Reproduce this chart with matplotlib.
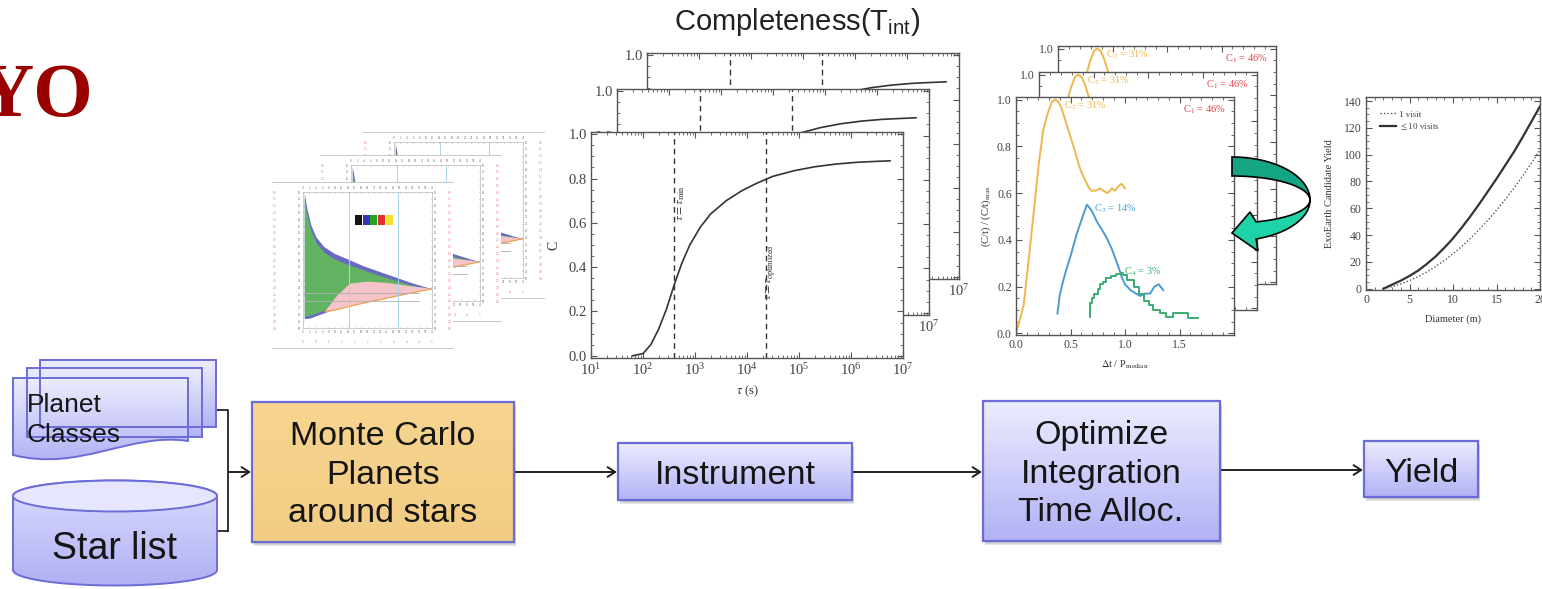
import numpy as np
import matplotlib
matplotlib.use("Agg")
import matplotlib.pyplot as plt
from matplotlib.patches import Polygon, Rectangle, Ellipse, PathPatch
from matplotlib.path import Path
from matplotlib.colors import LinearSegmentedColormap
from matplotlib.ticker import MultipleLocator, LogLocator, NullFormatter, FormatStrFormatter

# ---- completeness vs integration time ----
tau_log = [1.8, 2.0, 2.15, 2.3, 2.45, 2.6, 2.75, 2.9, 3.1, 3.3, 3.6, 3.9, 4.2,
           4.5, 4.9, 5.3, 5.7, 6.1, 6.45, 6.75]
completeness = [0.0, 0.01, 0.05, 0.12, 0.21, 0.32, 0.42, 0.50, 0.58, 0.64, 0.70,
                0.745, 0.78, 0.81, 0.835, 0.853, 0.865, 0.873, 0.877, 0.88]
tau_min_log = 2.6
tau_opt_log = 4.37

# ---- relative completeness per revisit ----
yellow_x = [0.00, 0.03, 0.07, 0.12, 0.17, 0.21, 0.25, 0.29, 0.33, 0.36, 0.39, 0.42, 0.46,
            0.50, 0.54, 0.57, 0.60, 0.63, 0.66, 0.69, 0.73, 0.77, 0.80, 0.84, 0.88, 0.91,
            0.94, 0.97, 1.00]
yellow_y = [0.00, 0.05, 0.12, 0.33, 0.55, 0.73, 0.87, 0.94, 0.99, 1.00, 0.99, 0.96, 0.90,
            0.84, 0.78, 0.73, 0.69, 0.66, 0.63, 0.61, 0.61, 0.62, 0.61, 0.60, 0.62, 0.61,
            0.63, 0.64, 0.62]
blue_x = [0.38, 0.39, 0.40, 0.43, 0.46, 0.50, 0.53, 0.56, 0.59, 0.62, 0.65, 0.67, 0.70,
          0.74, 0.78, 0.83, 0.88, 0.92, 0.95, 0.97, 1.00, 1.05, 1.10, 1.14, 1.18, 1.23,
          1.27, 1.31, 1.35]
blue_y = [0.085, 0.12, 0.16, 0.22, 0.27, 0.33, 0.38, 0.43, 0.47, 0.51, 0.55, 0.54, 0.52,
          0.48, 0.45, 0.41, 0.36, 0.31, 0.27, 0.24, 0.21, 0.185, 0.17, 0.16, 0.17, 0.17,
          0.20, 0.21, 0.185]
green_x = [0.68, 0.68, 0.70, 0.72, 0.75, 0.77, 0.80, 0.83, 0.87, 0.92, 0.96, 0.98, 1.02,
           1.08, 1.13, 1.17, 1.22, 1.26, 1.32, 1.38, 1.44, 1.50, 1.57, 1.58, 1.62, 1.67]
green_y = [0.07, 0.13, 0.15, 0.17, 0.19, 0.21, 0.22, 0.235, 0.245, 0.256, 0.26, 0.25, 0.23,
           0.20, 0.17, 0.14, 0.12, 0.10, 0.085, 0.07, 0.085, 0.085, 0.085, 0.065, 0.065, 0.065]
visit_labels = [r"C$_1$ = 46%", r"C$_2$ = 31%", r"C$_3$ = 14%", r"C$_4$ = 3%"]

# ---- yield vs telescope diameter ----
diameter = [2, 3, 4, 5, 6, 7, 8, 9, 10, 11, 12, 13, 14, 15, 16, 17, 18, 19, 20]
yield_multi = [0, 3, 6, 9.5, 13.5, 18.5, 24, 30.5, 37.5, 45.5, 54, 63, 72.5, 82, 92,
               102, 113, 124.5, 136]
yield_single = [0, 1.5, 3.5, 6, 9, 12.5, 16.5, 21, 26, 31.5, 37.5, 44, 51, 58.5, 66.5,
                75, 84, 93.5, 103.5]

# ---- completeness map thumbnail ----
map_x = [0.01, 0.03, 0.06, 0.10, 0.16, 0.24, 0.34, 0.46, 0.58, 0.70, 0.82, 0.92, 1.0]
map_top = [0.99, 0.88, 0.76, 0.67, 0.60, 0.55, 0.51, 0.46, 0.42, 0.38, 0.34, 0.31, 0.29]
map_bot = [0.07, 0.07, 0.075, 0.09, 0.11, 0.14, 0.17, 0.20, 0.225, 0.245, 0.265, 0.28, 0.29]
green_top = [0.95, 0.84, 0.72, 0.63, 0.56, 0.51, 0.47, 0.43, 0.39, 0.355, 0.32, 0.30, 0.29]
green_bot = [0.09, 0.09, 0.095, 0.11, 0.13, 0.155, 0.185, 0.21, 0.235, 0.255, 0.27, 0.283, 0.29]
pink_x = [0.17, 0.26, 0.36, 0.50, 0.65, 0.80, 0.93, 1.0]
pink_top = [0.13, 0.24, 0.33, 0.345, 0.335, 0.315, 0.30, 0.29]
pink_bot = [0.12, 0.135, 0.16, 0.19, 0.22, 0.25, 0.275, 0.29]
swatch_colors = ["#151515", "#3535b5", "#25a525", "#e03030", "#f0e030"]

# ---- flowchart ----
step_labels = ["Monte Carlo\nPlanets\naround stars", "Instrument",
               "Optimize\nIntegration\nTime Alloc.", "Yield"]

W, H = 1542, 589
plt.rcParams["font.family"] = "Liberation Serif"
plt.rcParams["mathtext.fontset"] = "stix"
plt.rcParams["mathtext.rm"] = "Liberation Sans"
plt.rcParams["mathtext.it"] = "Liberation Sans:italic"
plt.rcParams["mathtext.bf"] = "Liberation Sans:bold"
plt.rcParams["mathtext.sf"] = "Liberation Sans"

fig = plt.figure(figsize=(W / 100, H / 100), dpi=100)
fig.patch.set_facecolor("white")

TICK = "#555555"
INK = "#333333"


def px_axes(x0, y0, x1, y1, z=1):
    ax = fig.add_axes([x0 / W, 1 - y1 / H, (x1 - x0) / W, (y1 - y0) / H])
    ax.set_zorder(z)
    ax.set_facecolor("white")
    return ax


def idl_style(ax, size):
    for s in ax.spines.values():
        s.set_color(TICK)
        s.set_linewidth(1.0)
    ax.tick_params(which="both", direction="in", top=True, right=True,
                   color=TICK, labelcolor="#444444", labelsize=size, pad=3)
    ax.tick_params(which="major", length=4, width=0.8)
    ax.tick_params(which="minor", length=2, width=0.6)


# completeness panels, back to front
tau = 10 ** np.array(tau_log)
offsets = [(56, -79), (26, -43), (0, 0)]
for k, (dx, dy) in enumerate(offsets):
    ax = px_axes(591 + dx, 132 + dy, 903 + dx, 358 + dy, z=10 + k)
    ax.semilogx(tau, completeness, color=INK, lw=1.2)
    for t in (tau_min_log, tau_opt_log):
        ax.axvline(10 ** t, color=INK, lw=1.0, ls=(0, (4, 3)))
    ax.text(10 ** (tau_min_log + 0.13), 0.69, r"$\tau = \tau_{\rm min}$", rotation=90,
            ha="center", va="center", fontsize=8.5, color=INK)
    ax.text(10 ** (tau_opt_log + 0.08), 0.38, r"$\tau = \tau_{\rm optimized}$", rotation=90,
            ha="center", va="center", fontsize=8.5, color=INK)
    ax.set_xlim(1e1, 1e7)
    ax.set_ylim(-0.01, 1.01)
    ax.xaxis.set_major_locator(LogLocator(base=10, numticks=10))
    ax.xaxis.set_minor_locator(LogLocator(base=10, subs=np.arange(2, 10), numticks=10))
    ax.xaxis.set_minor_formatter(NullFormatter())
    ax.yaxis.set_major_locator(MultipleLocator(0.2))
    ax.yaxis.set_minor_locator(MultipleLocator(0.05))
    ax.yaxis.set_major_formatter(FormatStrFormatter("%.1f"))
    idl_style(ax, 10.5)
    if k == len(offsets) - 1:
        ax.set_ylabel("C", fontsize=10, color=INK, labelpad=6)
        ax.set_xlabel(r"$\tau$ (s)", fontsize=9, color=INK, labelpad=4)

fig.text(797 / W, 1 - 22 / H, r"Completeness(T$_{\mathrm{int}}$)", ha="center", va="center",
         fontsize=21, family="Liberation Sans", color="#222222", math_fontfamily="custom")

# revisit panels, back to front
YEL, BLU, GRN, RED = "#f1b64c", "#4a9ad4", "#3aad70", "#e8404c"
offsets = [(42, -51), (23, -25), (0, 0)]
for k, (dx, dy) in enumerate(offsets):
    ax = px_axes(1016 + dx, 97 + dy, 1234 + dx, 335 + dy, z=20 + k)
    ax.plot(yellow_x, yellow_y, color=YEL, lw=1.4)
    ax.plot(blue_x, blue_y, color=BLU, lw=1.4)
    ax.plot(green_x, green_y, color=GRN, lw=1.4, drawstyle="steps-post")
    ax.text(1.93, 0.955, visit_labels[0], color=RED, fontsize=7.5, ha="right", va="center")
    ax.text(0.44, 0.975, visit_labels[1], color=YEL, fontsize=7.5, ha="left", va="center")
    ax.text(0.72, 0.535, visit_labels[2], color=BLU, fontsize=7.5, ha="left", va="center")
    ax.text(0.99, 0.262, visit_labels[3], color=GRN, fontsize=7.5, ha="left", va="center")
    ax.set_xlim(0, 2.0)
    ax.set_ylim(-0.007, 1.011)
    ax.set_xticks([0, 0.5, 1.0, 1.5])
    ax.xaxis.set_minor_locator(MultipleLocator(0.1))
    ax.yaxis.set_major_locator(MultipleLocator(0.2))
    ax.yaxis.set_minor_locator(MultipleLocator(0.05))
    ax.xaxis.set_major_formatter(FormatStrFormatter("%.1f"))
    ax.yaxis.set_major_formatter(FormatStrFormatter("%.1f"))
    idl_style(ax, 8.5)
    if k == len(offsets) - 1:
        ax.set_ylabel(r"(C/t) / (C/t)$_{\rm max}$", fontsize=7.5, color=INK, labelpad=3)
        ax.set_xlabel(r"$\Delta$t / P$_{\rm median}$", fontsize=7.5, color=INK, labelpad=5)

# yield panel
ax = px_axes(1366, 97, 1540, 290, z=30)
ax.plot(diameter, yield_single, color="#555555", lw=1.0, ls=(0, (1, 1.5)), label="1 visit")
ax.plot(diameter, yield_multi, color="#333333", lw=1.6, label=r"$\leq$10 visits")
ax.set_xlim(0, 20)
ax.set_ylim(-1, 143)
ax.xaxis.set_major_locator(MultipleLocator(5))
ax.xaxis.set_minor_locator(MultipleLocator(1))
ax.yaxis.set_major_locator(MultipleLocator(20))
ax.yaxis.set_minor_locator(MultipleLocator(5))
idl_style(ax, 8.5)
ax.set_ylabel("ExoEarth Candidate Yield", fontsize=7.5, color=INK, labelpad=7)
ax.set_xlabel("Diameter (m)", fontsize=7.5, color=INK, labelpad=6)
ax.legend(loc="upper left", bbox_to_anchor=(0.06, 0.95), frameon=False, fontsize=6.5,
          handlelength=1.8, borderaxespad=0, labelspacing=0.25, handletextpad=0.3,
          labelcolor="#444444")

# completeness map thumbnails, back to front
for k, (dx, dy) in enumerate([(91, -50), (48, -27), (0, 0)]):
    px, py = 272 + dx, 182 + dy
    page = px_axes(px, py, px + 181, py + 166, z=2 + 2 * k)
    page.set_xticks([])
    page.set_yticks([])
    for side in ("left", "right"):
        page.spines[side].set_visible(False)
    for side in ("top", "bottom"):
        page.spines[side].set_color("#c8c8c8")
        page.spines[side].set_linewidth(0.7)

    m = px_axes(px + 31, py + 10, px + 160, py + 146, z=3 + 2 * k)
    m.fill_between(map_x, map_bot, map_top, color="#4f4fb8", alpha=0.85, lw=0)
    m.fill_between(map_x, green_bot, green_top, color="#62bd58", alpha=0.9, lw=0)
    m.fill_between(pink_x, pink_bot, pink_top, color="#f4c4c8", lw=0)
    m.plot(pink_x, pink_bot, color="#f0a040", lw=0.8)
    m.axvline(0.36, color="#a8d4f0", lw=0.7)
    m.axvline(0.74, color="#a8d4f0", lw=0.7)
    m.axhline(0.26, xmax=0.9, color="#b0b0b0", lw=0.6)
    m.axhline(0.20, xmax=0.9, color="#b0b0b0", lw=0.6)
    m.bar(np.linspace(0.43, 0.67, 5), 0.07, bottom=0.76, width=0.055,
          color=swatch_colors, lw=0)
    m.set_xlim(0, 1)
    m.set_ylim(0, 1)
    m.set_xticks(np.linspace(0, 1, 21))
    m.set_yticks(np.linspace(0, 1, 21))
    m.set_xticklabels([f"{v:.0f}" for v in np.linspace(0, 40, 21)])
    m.set_yticklabels([f"{v:.0f}" for v in np.linspace(30, 10, 21)])
    m.tick_params(direction="in", length=1, width=0.4, labelsize=2.2, pad=1.5,
                  top=True, right=True, labeltop=True, labelright=True,
                  colors="#777777", labelcolor="#666666")
    for s in m.spines.values():
        s.set_color("#bbbbbb")
        s.set_linewidth(0.5)
    sec = m.secondary_yaxis(-0.2)
    sec.set_yticks(np.linspace(0, 1, 21))
    sec.set_yticklabels([f"{v:.1f}" for v in np.linspace(3.0, 1.0, 21)])
    sec.tick_params(length=0, labelsize=2.2, labelcolor="#e06060", pad=0.5)
    sec.spines["left"].set_visible(False)
    sec2 = m.secondary_yaxis(1.12)
    sec2.set_yticks(np.linspace(0, 1, 21))
    sec2.set_yticklabels([f"{v:.1f}" for v in np.linspace(3.0, 1.0, 21)])
    sec2.tick_params(length=0, labelsize=2.2, labelcolor="#e06060", pad=0.5)
    sec2.spines["right"].set_visible(False)
    secx = m.secondary_xaxis(-0.08)
    secx.set_xticks(np.linspace(0, 1, 11))
    secx.set_xticklabels([f"{v:.0f}" for v in np.linspace(0, 5, 11)])
    secx.tick_params(length=0, labelsize=2.2, labelcolor="#e06060", pad=0.5)
    secx.spines["bottom"].set_visible(False)

# overlay in pixel coordinates for the flowchart and the revisit arrow
ov = fig.add_axes([0, 0, 1, 1])
ov.set_zorder(50)
ov.patch.set_alpha(0)
ov.axis("off")

BOX_TOP, BOX_BOT, BOX_EDGE = "#ececff", "#b2b2f6", "#6c6cd8"


def gradient_fill(patch, top, bottom, y0, y1, x0, x1):
    cmap = LinearSegmentedColormap.from_list("g", [top, bottom])
    im = ov.imshow(np.linspace(0, 1, 64).reshape(-1, 1), cmap=cmap, origin="upper",
                   extent=(x0, x1, y1, y0), aspect="auto", zorder=patch.get_zorder() - 0.5)
    im.set_clip_path(patch)


def shadow(x0, y0, x1, y1):
    for i, a in enumerate([0.06, 0.08, 0.10]):
        ov.add_patch(Rectangle((x0 + 1 + i * 0.5, y0 + 2 + i), x1 - x0, y1 - y0,
                               fc="black", alpha=a, ec="none", zorder=1))


def box(x0, y0, x1, y1, top=BOX_TOP, bottom=BOX_BOT):
    shadow(x0, y0, x1, y1)
    r = Rectangle((x0, y0), x1 - x0, y1 - y0, fc="none", ec=BOX_EDGE, lw=1.6, zorder=3)
    ov.add_patch(r)
    gradient_fill(r, top, bottom, y0, y1, x0, x1)


def label(x, y, s, size=24.5, ha="center"):
    ov.text(x, y, s, ha=ha, va="center", fontsize=size, family="Liberation Sans",
            color="#151515", zorder=5, linespacing=1.33)


# planet classes: stacked document shapes
for x0, y0, x1, y1 in [(40, 360, 216, 427), (27, 368, 202, 437)]:
    r = Rectangle((x0, y0), x1 - x0, y1 - y0, fc="none", ec=BOX_EDGE, lw=1.4, zorder=3)
    ov.add_patch(r)
    gradient_fill(r, BOX_TOP, BOX_BOT, y0, y1, x0, x1)
doc = Path([(13, 378), (188, 378), (188, 441), (130, 432), (80, 472), (13, 455), (13, 378),
            (13, 378)],
           [Path.MOVETO, Path.LINETO, Path.LINETO, Path.CURVE4, Path.CURVE4, Path.CURVE4,
            Path.LINETO, Path.CLOSEPOLY])
dp = PathPatch(doc, fc="none", ec=BOX_EDGE, lw=1.4, zorder=3)
ov.add_patch(dp)
gradient_fill(dp, BOX_TOP, BOX_BOT, 378, 462, 13, 188)
label(27, 405, "Planet", size=19, ha="left")
label(27, 435, "Classes", size=19, ha="left")

# star list: cylinder
t = np.linspace(np.pi, 0, 60)
bottom_arc = np.column_stack([115 + 102 * np.cos(t), 570 + 15.5 * np.sin(t)])
top_arc = np.column_stack([115 + 102 * np.cos(t[::-1]), 496 - 15.5 * np.sin(t[::-1])])
body = np.vstack([[(13, 496)], bottom_arc, [(217, 496)], top_arc])
bp = Polygon(body, closed=True, fc="none", ec=BOX_EDGE, lw=1.4, zorder=3)
ov.add_patch(bp)
gradient_fill(bp, "#dcdcff", "#b0b0f4", 480, 586, 13, 217)
ov.add_patch(Ellipse((115, 496), 204, 31, fc="#e6e6ff", ec=BOX_EDGE, lw=1.4, zorder=4))
label(115, 549, "Star list", size=27)

# process boxes
box(252, 402, 514, 542, top="#f7d590", bottom="#f2cc84")
box(618, 443, 852, 500)
box(983, 401, 1220, 541)
box(1364, 441, 1478, 497)
label(383, 475, step_labels[0])
label(735, 475, step_labels[1])
label(1101, 474, step_labels[2])
label(1421, 473, step_labels[3])

# connectors
LINE = "#222222"
ov.plot([216, 228, 228], [410, 410, 531], color=LINE, lw=1.3, zorder=2)
ov.plot([217, 228], [531, 531], color=LINE, lw=1.3, zorder=2)
arrow_kw = dict(arrowstyle="->,head_length=0.55,head_width=0.35", color=LINE, lw=1.4,
                shrinkA=0, shrinkB=0)
for x0, x1, y in [(228, 251, 472), (514, 617, 472), (852, 982, 472), (1220, 1363, 470)]:
    ov.annotate("", xy=(x1, y), xytext=(x0, y), arrowprops=arrow_kw, zorder=2)

# revisit arrow wrapping around the panels
cx, cy, a = 1232, 200, 78
th = np.linspace(np.pi / 2, 0, 50)
upper = np.vstack([np.column_stack([cx + a * np.cos(th), cy - 43 * np.sin(th)]),
                   np.column_stack([cx + a * np.cos(th[::-1]), cy - 24 * np.sin(th[::-1])])])
ov.add_patch(Polygon(upper, closed=True, fc="#14a585", ec="black", lw=1.2, zorder=6))
tl = np.linspace(0, np.radians(72), 40)
lower = np.vstack([np.column_stack([cx + a * np.cos(tl), cy + 41 * np.sin(tl)]),
                   [(1258, 251), (1232, 233), (1250, 212)],
                   np.column_stack([cx + a * np.cos(tl[::-1]), cy + 23 * np.sin(tl[::-1])])])
ov.add_patch(Polygon(lower, closed=True, fc="#1fd3a8", ec="black", lw=1.2, zorder=7))

# partial section heading at the left edge
ov.text(-21, 116, "YO", ha="left", va="baseline", fontsize=55, fontweight="bold",
        family="Liberation Serif", color="#9b0000", zorder=5)

ov.set_xlim(0, W)
ov.set_ylim(H, 0)

fig.savefig("out.png", dpi=100, facecolor="white")
